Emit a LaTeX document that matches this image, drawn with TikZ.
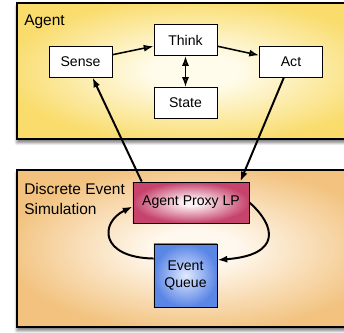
\documentclass[tikz,border=0pt]{standalone}
\usepackage{fontspec}
\setmainfont{Liberation Sans}
\usetikzlibrary{arrows.meta}
\usetikzlibrary{shadows.blur}
\definecolor{agentout}{HTML}{F9DC6C}
\definecolor{agentin}{HTML}{FFFCEC}
\definecolor{desout}{HTML}{F2C27E}
\definecolor{desin}{HTML}{FFF8EE}
\definecolor{proxyout}{HTML}{C6436C}
\definecolor{proxyin}{HTML}{FCF0F4}
\definecolor{queueout}{HTML}{5A86E6}
\definecolor{queuein}{HTML}{E2EAFF}
\pgfdeclareradialshading[agentin,agentout]{agentglow}{\pgfpoint{0bp}{0bp}}{color(0bp)=(agentin); color(6bp)=(agentin); color(27bp)=(agentout); color(50bp)=(agentout)}
\pgfdeclareradialshading[desin,desout]{desglow}{\pgfpoint{0bp}{0bp}}{color(0bp)=(desin); color(6bp)=(desin); color(27bp)=(desout); color(50bp)=(desout)}
\pgfdeclareradialshading[proxyin,proxyout]{proxyglow}{\pgfpoint{0bp}{0bp}}{color(0bp)=(proxyin); color(4bp)=(proxyin); color(25bp)=(proxyout); color(50bp)=(proxyout)}

\begin{document}
\begin{tikzpicture}[x=0.025cm, y=-0.025cm, >={Latex[length=7pt, width=5pt]},
	panel/.style={draw, line width=1.2pt, blur shadow={shadow xshift=0pt, shadow yshift=-2.5pt, shadow blur steps=6, shadow opacity=55}},
	box/.style={draw, fill=white, line width=0.6pt, minimum width=1.575cm, minimum height=0.775cm, inner sep=1pt, font=\fontsize{10}{11.5}\selectfont},
	title/.style={anchor=north west, inner sep=0pt, align=left, font=\fontsize{11}{14}\selectfont},
	flow/.style={->, line width=1.1pt}]
	\useasboundingbox (0,0) rectangle (344,332);
	\clip (0,0) rectangle (344,332);
	% the two panels
	\path[panel, shading=agentglow] (17,3) rectangle (372,139);
	\path[panel, shading=desglow] (17,170) rectangle (372,327);
	\node[title] (agenttitle) at (24,15) {Agent};
	\node[title] (destitle) at (24,183) {Discrete Event\\Simulation};
	% agent loop
	\node[box] (sense) at (80.5,61.5) {Sense};
	\node[box] (think) at (185.5,40) {Think};
	\node[box] (act) at (291,61.5) {Act};
	\node[box] (state) at (185.5,103) {State};
	% simulation side
	\node[box, minimum width=2.9cm, minimum height=1.025cm, shading=proxyglow] (proxy) at (191,202.5) {Agent Proxy LP};
	\node[box, minimum height=1.575cm, align=center, inner color=queuein, outer color=queueout] (queue) at (185.5,275.5) {Event\\Queue};
	% arrows
	\draw[flow] (sense.12) -- (think.191);
	\draw[flow] (think.349) -- (act.169);
	\draw[flow, <->] (think) -- (state);
	\draw[flow, line width=1.4pt] (proxy.157) -- (sense.-53);
	\draw[flow, line width=1.4pt] (act.246) -- (proxy.23);
	\draw[flow, line width=1.4pt] (proxy.east) .. controls +(26,23) and +(65,-5) .. (queue.26);
	\draw[flow, line width=1.4pt] (queue.152) .. controls +(-54,-1) and +(-33,16) .. (proxy.184);
\end{tikzpicture}
\end{document}
